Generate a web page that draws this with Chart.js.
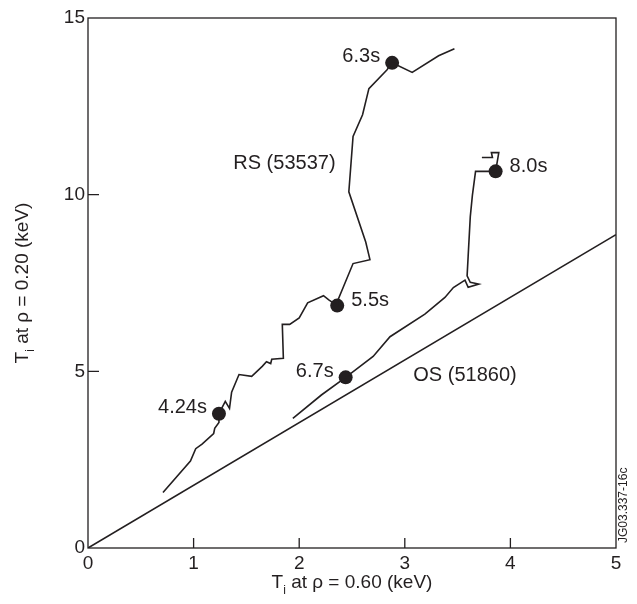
<!DOCTYPE html>
<html>
<head>
<meta charset="utf-8">
<script src="https://cdn.jsdelivr.net/npm/chart.js@4/dist/chart.umd.min.js"></script>
<style>
html,body{margin:0;padding:0;background:#fff;}
#wrap{width:637px;height:604px;position:relative;}
</style>
</head>
<body>
<div id="wrap"><canvas id="c" width="637" height="604"></canvas></div>
<script>
// ---- data ----
const xTicks = [0, 1, 2, 3, 4, 5];
const yTicks = [0, 5, 10, 15];

// RS (53537) trajectory
const rsX = [0.71, 0.97, 1.02, 1.08, 1.19, 1.20, 1.24, 1.24, 1.30, 1.34, 1.36, 1.43, 1.55, 1.65, 1.69, 1.73, 1.74, 1.85, 1.84, 1.91, 2.00, 2.08, 2.23, 2.28, 2.36, 2.37, 2.42, 2.51, 2.67, 2.63, 2.47, 2.51, 2.60, 2.66, 2.83, 2.88, 3.07, 3.32, 3.47];
const rsY = [1.57, 2.46, 2.81, 2.94, 3.24, 3.39, 3.55, 3.80, 4.15, 3.95, 4.41, 4.91, 4.86, 5.14, 5.27, 5.22, 5.34, 5.37, 6.33, 6.33, 6.51, 6.94, 7.14, 7.02, 6.86, 7.04, 7.40, 8.05, 8.16, 8.66, 10.08, 11.65, 12.26, 13.00, 13.53, 13.73, 13.46, 13.93, 14.13];

// OS (51860) trajectory
const osX = [1.94, 2.21, 2.44, 2.70, 2.86, 3.19, 3.38, 3.46, 3.57, 3.60, 3.70, 3.62, 3.59, 3.60, 3.62, 3.64, 3.67, 3.86, 3.89, 3.82, 3.83, 3.73];
const osY = [3.67, 4.33, 4.83, 5.42, 5.98, 6.62, 7.09, 7.37, 7.58, 7.38, 7.47, 7.52, 7.70, 8.26, 9.37, 9.98, 10.66, 10.66, 11.19, 11.19, 11.05, 11.05];

// reference line
const diagX = [0, 5];
const diagY = [0, 8.87];

// time markers
const markerX = [1.24, 2.36, 2.88, 2.44, 3.86];
const markerY = [3.80, 6.86, 13.73, 4.83, 10.66];
const markerLabels = ["4.24s", "5.5s", "6.3s", "6.7s", "8.0s"];

// curve names
const curveNames = ["RS (53537)", "OS (51860)"];
const curveNameX = [1.86, 3.57];
const curveNameY = [10.89, 4.89];

const xTitle = ["T", "i", " at \u03c1 = 0.60 (keV)"];
const yTitle = ["T", "i", " at \u03c1 = 0.20 (keV)"];
const stamp = "JG03.337-16c";

// ---- styling ----
const INK = "#231f20";
const FONT = "'Liberation Sans', Arial, Helvetica, sans-serif";
const markerSide = ["left", "right", "left", "left", "right"];

function pts(xs, ys) { return xs.map((x, i) => ({x: x, y: ys[i]})); }

function drawSubTitle(ctx, parts, size) {
  ctx.font = size + "px " + FONT;
  const w0 = ctx.measureText(parts[0]).width;
  ctx.font = Math.round(size * 0.65) + "px " + FONT;
  const w1 = ctx.measureText(parts[1]).width;
  ctx.font = size + "px " + FONT;
  const w2 = ctx.measureText(parts[2]).width;
  const total = w0 + w1 + w2;
  let x = -total / 2;
  ctx.textAlign = "left";
  ctx.textBaseline = "middle";
  ctx.font = size + "px " + FONT;
  ctx.fillText(parts[0], x, 0); x += w0;
  ctx.font = Math.round(size * 0.65) + "px " + FONT;
  ctx.fillText(parts[1], x, size * 0.38); x += w1;
  ctx.font = size + "px " + FONT;
  ctx.fillText(parts[2], x, 0);
}

const decor = {
  id: "decor",
  afterDraw(chart) {
    const ctx = chart.ctx;
    const a = chart.chartArea;
    const xs = chart.scales.x, ys = chart.scales.y;
    ctx.save();
    ctx.strokeStyle = INK;
    ctx.lineWidth = 1.3;
    ctx.strokeRect(a.left, a.top, a.right - a.left, a.bottom - a.top);
    ctx.beginPath();
    xTicks.forEach(v => {
      if (v === 0 || v === 5) return;
      const px = xs.getPixelForValue(v);
      ctx.moveTo(px, a.bottom); ctx.lineTo(px, a.bottom - 10);
    });
    yTicks.forEach(v => {
      if (v === 0 || v === 15) return;
      const py = ys.getPixelForValue(v);
      ctx.moveTo(a.left, py); ctx.lineTo(a.left + 11, py);
    });
    ctx.stroke();

    ctx.fillStyle = INK;
    ctx.font = "20px " + FONT;
    ctx.textBaseline = "middle";
    markerLabels.forEach((t, i) => {
      const px = xs.getPixelForValue(markerX[i]);
      const py = ys.getPixelForValue(markerY[i]);
      if (markerSide[i] === "left") {
        ctx.textAlign = "right";
        ctx.fillText(t, px - 12, py - 6);
      } else {
        ctx.textAlign = "left";
        ctx.fillText(t, px + 14, py - 5);
      }
    });
    ctx.textAlign = "center";
    curveNames.forEach((t, i) => {
      ctx.fillText(t, xs.getPixelForValue(curveNameX[i]), ys.getPixelForValue(curveNameY[i]));
    });

    ctx.save();
    ctx.translate((a.left + a.right) / 2, 583);
    drawSubTitle(ctx, xTitle, 19);
    ctx.restore();
    ctx.save();
    ctx.translate(23, (a.top + a.bottom) / 2);
    ctx.rotate(-Math.PI / 2);
    drawSubTitle(ctx, yTitle, 19);
    ctx.restore();

    ctx.save();
    ctx.translate(624, 543);
    ctx.rotate(-Math.PI / 2);
    ctx.font = "12px " + FONT;
    ctx.textAlign = "left";
    ctx.textBaseline = "middle";
    ctx.fillText(stamp, 0, 0);
    ctx.restore();

    ctx.restore();
  }
};

new Chart(document.getElementById("c"), {
  type: "scatter",
  data: {
    datasets: [
      { data: pts(diagX, diagY), showLine: true, borderColor: INK, borderWidth: 1.6, pointRadius: 0, tension: 0 },
      { data: pts(rsX, rsY), showLine: true, borderColor: INK, borderWidth: 1.6, pointRadius: 0, tension: 0 },
      { data: pts(osX, osY), showLine: true, borderColor: INK, borderWidth: 1.6, pointRadius: 0, tension: 0 },
      { data: pts(markerX, markerY), showLine: false, pointRadius: 7, pointBackgroundColor: INK, pointBorderColor: INK, pointBorderWidth: 0 }
    ]
  },
  options: {
    responsive: false,
    animation: false,
    events: [],
    layout: { padding: { left: 0, right: 21, top: 18, bottom: 0 } },
    plugins: { legend: { display: false }, tooltip: { enabled: false } },
    scales: {
      x: {
        type: "linear", min: 0, max: 5,
        afterBuildTicks(s) { s.ticks = xTicks.map(v => ({value: v})); },
        afterFit(s) { s.height = 56; },
        grid: { display: false, drawTicks: false },
        border: { display: false },
        ticks: { color: INK, font: { family: FONT, size: 19 }, padding: 4, maxRotation: 0 }
      },
      y: {
        type: "linear", min: 0, max: 15,
        afterBuildTicks(s) { s.ticks = yTicks.map(v => ({value: v})); },
        afterFit(s) { s.width = 88; },
        grid: { display: false, drawTicks: false },
        border: { display: false },
        ticks: { color: INK, font: { family: FONT, size: 19 }, padding: 3 }
      }
    }
  },
  plugins: [decor]
});
</script>
</body>
</html>
